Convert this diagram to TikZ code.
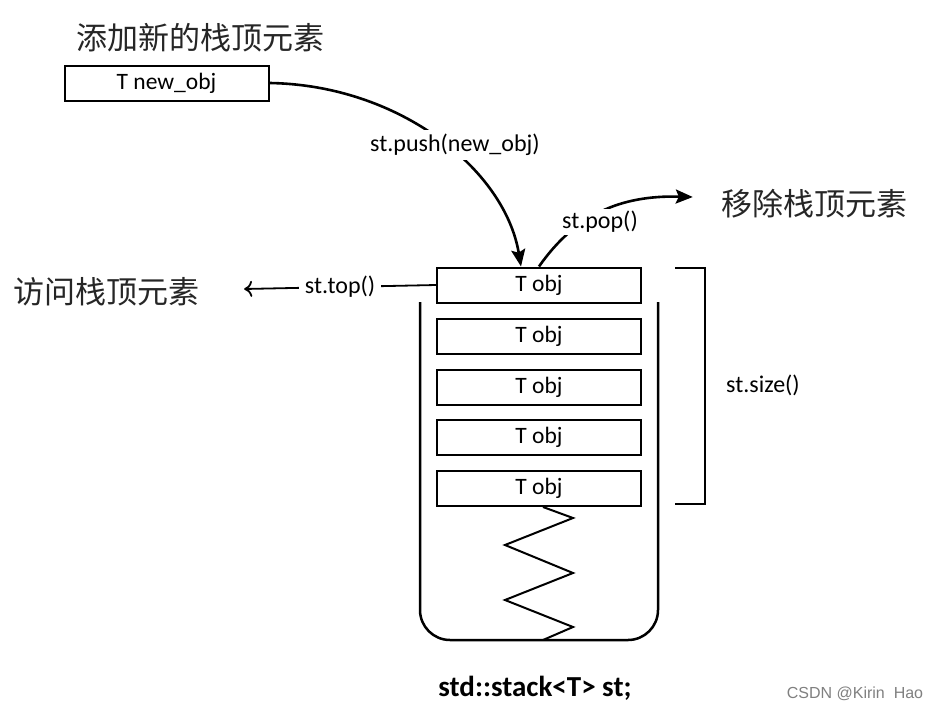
\documentclass[tikz,border=0pt]{standalone}
\usepackage{fontspec}
\setmainfont{Carlito}
\newfontfamily\cjk{Noto Sans CJK SC}
\newfontfamily\wmfont{Liberation Sans}
\usetikzlibrary{arrows.meta,calc}
\begin{document}
\begin{tikzpicture}[x=1pt,y=-1pt,
  objbox/.style={draw, line width=2pt, minimum width=204pt, minimum height=35pt, inner sep=0pt, font=\fontsize{23.5}{23.5}\selectfont},
  lbl/.style={font=\fontsize{24}{24}\selectfont, inner sep=4pt},
  cn/.style={font=\cjk\fontsize{31}{31}\selectfont, text=black!85, inner sep=0pt},
  conn/.style={line width=2.6pt, -{Stealth[length=17pt,width=14pt,inset=3pt]}},
]
\fill[white] (0,0) rectangle (937,710);
\useasboundingbox (0,0) rectangle (937,710);

% titles
\node[cn] (addt) at (200,38) {添加新的栈顶元素};
\node[cn] (remt) at (814,204) {移除栈顶元素};
\node[cn] (acct) at (106,292) {访问栈顶元素};

% new object
\node[objbox] (newobj) at (166.5,83) {T new\_obj};

% stack objects
\node[objbox] (o1) at (539,285) {T obj};
\node[objbox] (o2) at (539,336.5) {T obj};
\node[objbox] (o3) at (539,387.5) {T obj};
\node[objbox] (o4) at (539,437.5) {T obj};
\node[objbox] (o5) at (539,488.5) {T obj};

% container
\draw[line width=2.5pt, rounded corners=30pt] (420,302) -- (420,640) -- (658,640) -- (658,302);

% zigzag spring
\draw[line width=2pt, line join=miter] ($(o5.south)+(4,0)$) -- (573,518) -- (505,545) -- (573,573) -- (505,600) -- (573,627) -- (543,640);

% size bracket
\draw[line width=2pt] (675,268) -- (705,268) -- (705,504) -- (675,504);
\node[lbl] (size) at (763,385) {st.size()};

% push
\coordinate (pushend) at ($(o1.north west)+(85,0)$);
\draw[conn] (newobj.east) .. controls (400,85) and (505,170) .. (pushend);
\node[lbl, fill=white] (pushl) at (455,145) {st.push(new\_obj)};

% pop
\coordinate (popstart) at ($(o1.north west)+(103,0)$);
\coordinate (popend) at ($(remt.west)+(-28,-7)$);
\draw[conn] (popstart) .. controls (575,215) and (620,195) .. (popend);
\node[lbl, fill=white, inner sep=2pt] (popl) at (600,222) {st.pop()};

% top
\coordinate (topend) at ($(acct.east)+(45,-3)$);
\draw[line width=1.8pt, -{To[length=8pt,width=16pt]}] (o1.west) -- (topend)
  node[midway, lbl, fill=white, inner sep=6pt] (topl) {st.top()};

% caption
\node[font=\bfseries\fontsize{29}{29}\selectfont] (cap) at (535,688) {std::stack<T> st;};
\node[font=\wmfont\fontsize{16}{16}\selectfont, text=black!50] (wm) at (855,694) {CSDN @Kirin\ \ Hao};
\end{tikzpicture}
\end{document}
